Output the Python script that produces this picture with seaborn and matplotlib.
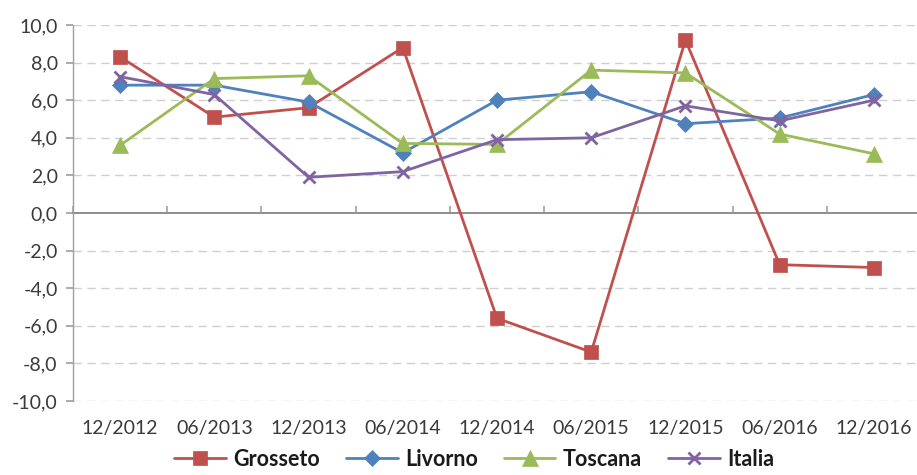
import matplotlib
matplotlib.use("Agg")
import matplotlib.pyplot as plt
import seaborn as sns
import pandas as pd

periods = ["12/2012", "06/2013", "12/2013", "06/2014", "12/2014",
           "06/2015", "12/2015", "06/2016", "12/2016"]
grosseto = [8.3, 5.1, 5.6, 8.8, -5.6, -7.4, 9.2, -2.75, -2.9]
livorno = [6.8, 6.8, 5.9, 3.2, 6.0, 6.45, 4.75, 5.05, 6.3]
toscana = [3.6, 7.15, 7.3, 3.7, 3.65, 7.6, 7.45, 4.2, 3.15]
italia = [7.25, 6.3, 1.9, 2.2, 3.9, 4.0, 5.7, 4.9, 6.0]

series = ["Grosseto", "Livorno", "Toscana", "Italia"]
colors = {"Grosseto": "#C0504D", "Livorno": "#4F81BD",
          "Toscana": "#9BBB59", "Italia": "#8064A2"}
markers = {"Grosseto": "s", "Livorno": "D", "Toscana": "^", "Italia": "x"}
msizes = {"Grosseto": 10, "Livorno": 8, "Toscana": 12, "Italia": 9}

df = pd.DataFrame({"periodo": periods, "Grosseto": grosseto, "Livorno": livorno,
                   "Toscana": toscana, "Italia": italia})
long = df.melt(id_vars="periodo", var_name="serie", value_name="valore")
long["pos"] = long["periodo"].map({p: i for i, p in enumerate(periods)})

sns.set_theme(style="white")
plt.rcParams["font.family"] = ["Lato", "DejaVu Sans"]

fig = plt.figure(figsize=(9.17, 4.75), dpi=100)
ax = fig.add_axes([73 / 917, 1 - 401 / 475, (921 - 73) / 917, (401 - 25) / 475])

for s in series:
    sub = long[long["serie"] == s]
    sns.lineplot(data=sub, x="pos", y="valore", ax=ax, color=colors[s],
                 linewidth=2, marker=markers[s], markersize=msizes[s],
                 markeredgecolor=colors[s],
                 markeredgewidth=2 if s == "Italia" else 0.5,
                 label=s, zorder=3)

ax.set_xlim(-0.5, len(periods) - 0.5)
ax.set_ylim(-10, 10)
yt = list(range(-10, 11, 2))
ax.set_yticks(yt)
ax.set_yticklabels([f"{v:.1f}".replace(".", ",") for v in yt])
ax.set_xticks(range(len(periods)))
ax.set_xticklabels(periods)
ax.set_xlabel("")
ax.set_ylabel("")

# dashed gridlines everywhere except at zero, where the category axis sits
for v in yt:
    if v != 0:
        ax.axhline(v, color="#CFCFCF", linestyle=(0, (6, 4)), linewidth=1, zorder=0)
ax.axhline(0, color="#A0A0A0", linewidth=1.2, zorder=1)
ax.grid(False)
for side in ["top", "right", "bottom"]:
    ax.spines[side].set_visible(False)
ax.spines["left"].set_color("#A0A0A0")
ax.spines["left"].set_linewidth(1)

ax.tick_params(axis="y", which="both", left=True, length=5, color="#A0A0A0",
               labelsize=14, labelcolor="#3A3A3A", pad=6)
ax.tick_params(axis="x", bottom=False, labelsize=14, labelcolor="#3A3A3A", pad=8)

# tick marks between categories, hanging from the zero line
sec = ax.secondary_xaxis(0.5)
sec.set_xticks([i + 0.5 for i in range(-1, len(periods))])
sec.set_xticklabels([])
sec.tick_params(axis="x", direction="out", length=5, color="#A0A0A0", width=1.2)
sec.spines["bottom"].set_visible(False)

handles, labels = ax.get_legend_handles_labels()
fig.legend(handles, labels, loc="lower center", bbox_to_anchor=(0.517, -0.03),
           ncol=4, frameon=False, handlelength=2.4, columnspacing=1.2,
           handletextpad=0.35, prop={"size": 15.5, "weight": "bold"},
           labelcolor="#1A1A1A")
ax.get_legend().remove()

fig.savefig("out.png", dpi=100)
